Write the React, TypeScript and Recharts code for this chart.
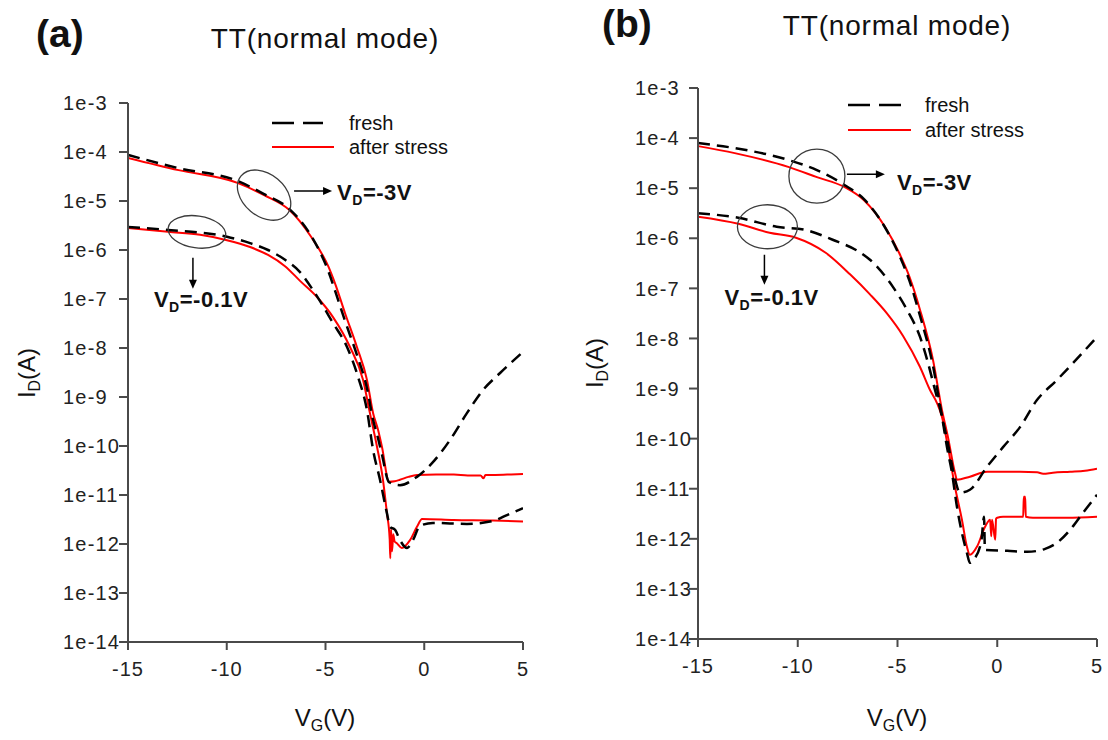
import React from "react";
import { LineChart, Line, XAxis, YAxis, Legend, ReferenceDot } from "recharts";

const FONT = '"Liberation Sans", Arial, Helvetica, sans-serif';
const RED = "#ff0000";
const BLACK = "#000000";
const AXIS = "#4a4a4a";

const vgTicks = [-15, -10, -5, 0, 5];
const logTicks = [-3, -4, -5, -6, -7, -8, -9, -10, -11, -12, -13, -14];
const logTickLabels = ["1e-3", "1e-4", "1e-5", "1e-6", "1e-7", "1e-8", "1e-9", "1e-10", "1e-11", "1e-12", "1e-13", "1e-14"];
const seriesNames = ["fresh", "after stress"];
const panelTitle = "TT(normal mode)";

// values are log10(I_D)

// (a) fresh, VD = -3V
const aFresh3Vg = [-15, -12.44, -9.46, -8.11, -6.84, -5.73, -4.84, -4.5, -4.01, -3.41, -2.9, -2.59, -2.34, -2.14, -1.78, -1.23, -0.37, 0.44, 1.3, 2.16, 2.97, 3.84, 5];
const aFresh3LogI = [-4.06, -4.33, -4.59, -4.86, -5.16, -5.71, -6.45, -6.85, -7.45, -8.14, -8.82, -9.47, -9.84, -10.18, -10.74, -10.8, -10.63, -10.33, -9.88, -9.33, -8.86, -8.51, -8.08];
// (a) after stress, VD = -3V
const aStress3Vg = [-15, -12.44, -9.46, -8.11, -6.84, -5.73, -4.84, -4.5, -4.01, -3.41, -2.9, -2.59, -2.34, -2.14, -1.78, -1.5, -1.23, -0.8, -0.37, 0.6, 1.5, 2.2, 2.85, 3.0, 3.1, 3.6, 4.4, 5];
const aStress3LogI = [-4.12, -4.37, -4.63, -4.88, -5.18, -5.73, -6.35, -6.7, -7.29, -7.98, -8.65, -9.33, -9.67, -10.02, -10.73, -10.72, -10.69, -10.63, -10.59, -10.58, -10.58, -10.6, -10.6, -10.66, -10.59, -10.59, -10.58, -10.57];
// (a) fresh, VD = -0.1V
const aFresh01Vg = [-15, -12.97, -9.99, -8.82, -7.91, -7.05, -6.29, -5.63, -4.62, -3.91, -3.35, -2.9, -2.59, -2.24, -1.89, -1.73, -1.48, -1.23, -0.87, -0.57, -0.22, 0.44, 2.16, 3.48, 4.19, 5];
const aFresh01LogI = [-5.53, -5.59, -5.73, -5.86, -6.0, -6.2, -6.45, -6.82, -7.49, -7.98, -8.59, -9.27, -10.08, -10.69, -11.37, -11.65, -11.71, -11.92, -12.08, -11.92, -11.63, -11.57, -11.59, -11.53, -11.41, -11.27];
// (a) after stress, VD = -0.1V
const aStress01Vg = [-15, -12.97, -11.35, -9.99, -8.82, -7.91, -7.05, -6.29, -5.43, -4.62, -3.76, -3.1, -2.75, -2.39, -2.09, -1.89, -1.75, -1.72, -1.68, -1.63, -1.57, -1.5, -1.4, -1.14, -0.72, -0.37, -0.11, 1.5, 3.5, 5];
const aStress01LogI = [-5.55, -5.63, -5.69, -5.8, -5.94, -6.1, -6.33, -6.63, -6.96, -7.37, -7.98, -8.65, -9.33, -10.02, -10.69, -11.37, -11.9, -12.29, -11.7, -12.15, -11.8, -11.95, -11.98, -12.08, -11.92, -11.65, -11.49, -11.51, -11.52, -11.54];

// (b) fresh, VD = -3V
const bFresh3Vg = [-15, -13.16, -10.44, -9.04, -7.64, -6.68, -5.63, -4.92, -4.4, -3.87, -3.22, -2.77, -2.47, -2.12, -1.87, -1.37, -0.51, 0.29, 1.14, 1.99, 2.99, 3.8, 5];
const bFresh3LogI = [-4.1, -4.2, -4.44, -4.64, -4.94, -5.22, -5.78, -6.33, -6.85, -7.55, -8.55, -9.55, -10.1, -10.8, -11.08, -11.02, -10.56, -10.17, -9.77, -9.23, -8.83, -8.49, -7.97];
// (b) after stress, VD = -3V
const bStress3Vg = [-15, -13.16, -10.44, -9.04, -7.64, -6.68, -5.63, -4.92, -4.4, -3.87, -3.22, -2.77, -2.47, -2.12, -2.02, -1.37, -0.51, 1.14, 2.0, 2.3, 2.79, 3.65, 4.4, 5];
const bStress3LogI = [-4.16, -4.3, -4.58, -4.78, -4.98, -5.24, -5.77, -6.29, -6.77, -7.43, -8.43, -9.43, -9.97, -10.68, -10.82, -10.76, -10.66, -10.66, -10.67, -10.7, -10.68, -10.66, -10.64, -10.6];
// (b) fresh, VD = -0.1V
const bFresh01Vg = [-15, -12.98, -11.06, -9.65, -8.25, -6.85, -6.38, -5.23, -4.52, -3.87, -3.47, -3.12, -2.77, -2.52, -2.27, -2.02, -1.77, -1.52, -1.37, -1.15, -0.8, -0.66, -0.62, 0.5, 1.5, 2.4, 2.99, 3.65, 4.3, 5];
const bFresh01LogI = [-5.5, -5.59, -5.77, -5.83, -6.03, -6.29, -6.43, -6.97, -7.43, -7.97, -8.49, -9.03, -9.57, -10.17, -10.68, -11.36, -11.88, -12.28, -12.48, -12.4, -12.05, -11.56, -12.22, -12.24, -12.26, -12.2, -12.08, -11.82, -11.48, -11.12];
// (b) after stress, VD = -0.1V
const bStress01Vg = [-15, -12.98, -11.41, -10.09, -8.6, -7.38, -6.38, -5.53, -4.72, -3.87, -3.37, -3.02, -2.77, -2.47, -2.12, -1.77, -1.52, -1.37, -1.02, -0.61, -0.36, -0.3, -0.26, -0.1, -0.06, 0.0, 0.29, 1.3, 1.33, 1.4, 1.43, 1.79, 3.5, 5];
const bStress01LogI = [-5.57, -5.71, -5.89, -5.99, -6.29, -6.72, -7.12, -7.5, -7.95, -8.57, -9.03, -9.29, -9.57, -10.17, -10.96, -11.62, -12.16, -12.32, -12.16, -11.76, -11.62, -11.95, -11.62, -12.02, -11.6, -11.58, -11.56, -11.56, -11.16, -11.16, -11.56, -11.58, -11.58, -11.56];

type Series = { id: string; vg: number[]; logI: number[]; fresh: boolean };
type Note = {
  x: number; y: number; rx: number; ry: number; rot: number;
  arrow: [number, number, number, number]; tx: number; ty: number; vd: string;
};

const toPoints = (vg: number[], logI: number[]) => vg.map((v, i) => ({ vg: v, logI: logI[i] }));

const seriesA: Series[] = [
  { id: "a3s", vg: aStress3Vg, logI: aStress3LogI, fresh: false },
  { id: "a01s", vg: aStress01Vg, logI: aStress01LogI, fresh: false },
  { id: "a3f", vg: aFresh3Vg, logI: aFresh3LogI, fresh: true },
  { id: "a01f", vg: aFresh01Vg, logI: aFresh01LogI, fresh: true },
];
const seriesB: Series[] = [
  { id: "b3s", vg: bStress3Vg, logI: bStress3LogI, fresh: false },
  { id: "b01s", vg: bStress01Vg, logI: bStress01LogI, fresh: false },
  { id: "b3f", vg: bFresh3Vg, logI: bFresh3LogI, fresh: true },
  { id: "b01f", vg: bFresh01Vg, logI: bFresh01LogI, fresh: true },
];

const notesA: Note[] = [
  { x: -8.11, y: -4.88, rx: 30, ry: 21, rot: 40, arrow: [30, -4, 68, -4], tx: 73, ty: 5, vd: "=-3V" },
  { x: -11.51, y: -5.63, rx: 29, ry: 16, rot: 8, arrow: [-4, 26, -4, 57], tx: -43, ty: 75, vd: "=-0.1V" },
];
const notesB: Note[] = [
  { x: -9.04, y: -4.76, rx: 28, ry: 27, rot: 0, arrow: [30, -2, 68, -2], tx: 80, ty: 14, vd: "=-3V" },
  { x: -11.52, y: -5.77, rx: 30, ry: 22, rot: 0, arrow: [-3, 28, -3, 58], tx: -43, ty: 78, vd: "=-0.1V" },
];

function NoteShape({ cx, cy, note }: { cx: number; cy: number; note: Note }) {
  const [x1, y1, x2, y2] = note.arrow;
  const ax = cx + x2;
  const ay = cy + y2;
  const len = Math.hypot(x2 - x1, y2 - y1);
  const ux = (x2 - x1) / len;
  const uy = (y2 - y1) / len;
  const head = `${ax},${ay} ${ax - ux * 9 - uy * 4},${ay - uy * 9 + ux * 4} ${ax - ux * 9 + uy * 4},${ay - uy * 9 - ux * 4}`;
  return (
    <g>
      <ellipse cx={cx} cy={cy} rx={note.rx} ry={note.ry} fill="none" stroke="#3c3c3c" strokeWidth={1.3}
        transform={`rotate(${note.rot} ${cx} ${cy})`} />
      <line x1={cx + x1} y1={cy + y1} x2={ax - ux * 6} y2={ay - uy * 6} stroke={BLACK} strokeWidth={1.5} />
      <polygon points={head} fill={BLACK} />
      <text x={cx + note.tx} y={cy + note.ty} fontFamily={FONT} fontWeight="bold" fontSize={22} letterSpacing={0.5} fill="#111">
        V<tspan dy={5} fontSize={14}>D</tspan><tspan dy={-5}>{note.vd}</tspan>
      </text>
    </g>
  );
}

const makeYTick = (gap: number) => (props: any) => {
  const { x, y, payload } = props;
  const label = logTickLabels[logTicks.indexOf(payload.value)];
  return (
    <text x={x - gap} y={y} dy="0.36em" textAnchor="start" fontFamily={FONT} fontSize={20} letterSpacing={1.2} fill="#222">
      {label}
    </text>
  );
};

const XTick = (props: any) => {
  const { x, y, payload } = props;
  return (
    <text x={x} y={y} dy="0.71em" textAnchor="middle" fontFamily={FONT} fontSize={20} letterSpacing={1} fill="#222">
      {payload.value}
    </text>
  );
};

function LegendBox({ dashLen, solidLen, textX, rowGap }: { dashLen: number; solidLen: number; textX: number; rowGap: number }) {
  return (
    <svg width={230} height={52} style={{ overflow: "visible", display: "block" }}>
      <line x1={0} y1={13} x2={dashLen} y2={13} stroke={BLACK} strokeWidth={2.5} strokeDasharray="22 9" />
      <text x={textX} y={13} dy="0.35em" fontFamily={FONT} fontSize={20} fill="#111">{seriesNames[0]}</text>
      <line x1={0} y1={13 + rowGap} x2={solidLen} y2={13 + rowGap} stroke={RED} strokeWidth={2} />
      <text x={textX} y={13 + rowGap} dy="0.35em" fontFamily={FONT} fontSize={20} fill="#111">{seriesNames[1]}</text>
    </svg>
  );
}

type PanelProps = {
  left: number; width: number;
  margin: { top: number; right: number; bottom: number; left: number };
  yAxisWidth: number; yGap: number;
  series: Series[]; notes: Note[];
  legend: { left: number; top: number; dashLen: number; solidLen: number; rowGap: number };
};

function Panel({ left, width, margin, yAxisWidth, yGap, series, notes, legend }: PanelProps) {
  return (
    <div style={{ position: "absolute", left, top: 0 }}>
      <LineChart width={width} height={740} margin={margin}>
        <XAxis dataKey="vg" type="number" domain={[-15, 5]} ticks={vgTicks} interval={0} allowDataOverflow
          height={40} stroke={AXIS} strokeWidth={2} tickSize={8} tickMargin={12}
          tickLine={{ stroke: AXIS, strokeWidth: 2 }} tick={XTick} />
        <XAxis xAxisId="top" orientation="top" type="number" domain={[-15, 5]} allowDataOverflow
          height={0} stroke={AXIS} strokeWidth={2} tick={false} tickLine={false} />
        <YAxis type="number" domain={[-14, -3]} ticks={logTicks} interval={0} allowDataOverflow
          width={yAxisWidth} stroke={AXIS} strokeWidth={2} tickSize={9} tickMargin={3}
          tickLine={{ stroke: AXIS, strokeWidth: 2 }} tick={makeYTick(yGap)} />
        <YAxis yAxisId="right" orientation="right" type="number" domain={[-14, -3]} allowDataOverflow
          width={0} stroke={AXIS} strokeWidth={2} tick={false} tickLine={false} />
        <Legend layout="vertical" align="center" verticalAlign="middle"
          wrapperStyle={{ left: legend.left, top: legend.top, width: 230, height: 52 }}
          content={() => <LegendBox dashLen={legend.dashLen} solidLen={legend.solidLen} textX={77} rowGap={legend.rowGap} />} />
        {series.map((s) => (
          <Line key={s.id} data={toPoints(s.vg, s.logI)} dataKey="logI" type="monotoneX"
            name={s.fresh ? seriesNames[0] : seriesNames[1]}
            stroke={s.fresh ? BLACK : RED} strokeWidth={s.fresh ? 2.5 : 2}
            strokeDasharray={s.fresh ? "12 7" : undefined} strokeLinejoin="round"
            dot={false} activeDot={false} isAnimationActive={false} />
        ))}
        {notes.map((n, i) => (
          <ReferenceDot key={i} x={n.x} y={n.y} r={1} ifOverflow="visible"
            shape={(p: any) => <NoteShape cx={p.cx} cy={p.cy} note={n} />} />
        ))}
      </LineChart>
    </div>
  );
}

function Titles() {
  const sub = (main: string, s: string, rest: string) => (
    <>
      {main}<tspan dy={5} fontSize={16}>{s}</tspan><tspan dy={-5}>{rest}</tspan>
    </>
  );
  return (
    <svg width={1108} height={740} style={{ position: "absolute", left: 0, top: 0, pointerEvents: "none" }}>
      <text x={36} y={47} fontFamily={FONT} fontWeight="bold" fontSize={39} fill="#111">(a)</text>
      <text x={325} y={48} textAnchor="middle" fontFamily={FONT} fontSize={28} letterSpacing={0.8} fill="#111">{panelTitle}</text>
      <text x={602} y={37} fontFamily={FONT} fontWeight="bold" fontSize={39} fill="#111">(b)</text>
      <text x={897} y={35} textAnchor="middle" fontFamily={FONT} fontSize={28} letterSpacing={0.8} fill="#111">{panelTitle}</text>

      <text transform="translate(27,373) rotate(-90)" textAnchor="middle" dy="0.35em" fontFamily={FONT} fontSize={24} fill="#111">
        {sub("I", "D", "(A)")}
      </text>
      <text transform="translate(595,363) rotate(-90)" textAnchor="middle" dy="0.35em" fontFamily={FONT} fontSize={24} fill="#111">
        {sub("I", "D", "(A)")}
      </text>
      <text x={325} y={726} textAnchor="middle" fontFamily={FONT} fontSize={24} fill="#111">{sub("V", "G", "(V)")}</text>
      <text x={897} y={726} textAnchor="middle" fontFamily={FONT} fontSize={24} fill="#111">{sub("V", "G", "(V)")}</text>
    </svg>
  );
}

export default function App() {
  return (
    <div style={{ position: "absolute", left: 0, top: 0, width: 1108, height: 740, background: "#ffffff", overflow: "hidden" }}>
      <Panel left={0} width={560} margin={{ top: 103, right: 37, bottom: 58, left: 0 }}
        yAxisWidth={128} yGap={53} series={seriesA} notes={notesA}
        legend={{ left: 272, top: 110, dashLen: 51, solidLen: 62, rowGap: 24 }} />
      <Panel left={560} width={548} margin={{ top: 88, right: 11, bottom: 61, left: 0 }}
        yAxisWidth={138} yGap={51} series={seriesB} notes={notesB}
        legend={{ left: 288, top: 92, dashLen: 53, solidLen: 63, rowGap: 25 }} />
      <Titles />
    </div>
  );
}
